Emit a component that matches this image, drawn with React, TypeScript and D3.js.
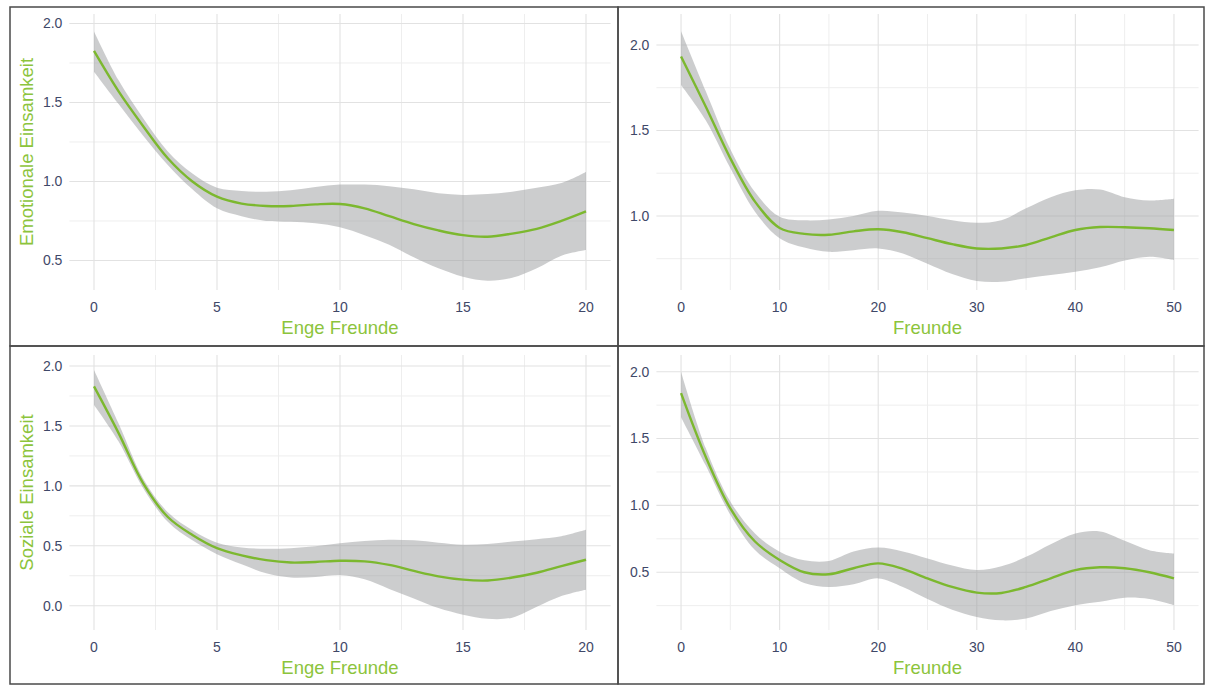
import React from "react";
import * as d3 from "d3";

// ---- Data ----
const engeX = [0, 1, 2, 3, 4, 5, 6, 7, 8, 9, 10, 11, 12, 13, 14, 15, 16, 17, 18, 19, 20];
const freundeX = [0, 2.5, 5, 7.5, 10, 12.5, 15, 17.5, 20, 22.5, 25, 27.5, 30, 32.5, 35, 37.5, 40, 42.5, 45, 47.5, 50];

// Emotionale Einsamkeit ~ Enge Freunde
const emoEngeFit = [1.826, 1.57, 1.35, 1.147, 1.0, 0.904, 0.86, 0.845, 0.845, 0.855, 0.857, 0.83, 0.78, 0.73, 0.69, 0.66, 0.65, 0.67, 0.7, 0.75, 0.81];
const emoEngeHi = [1.95, 1.64, 1.40, 1.19, 1.05, 0.96, 0.94, 0.935, 0.945, 0.965, 0.98, 0.98, 0.97, 0.95, 0.925, 0.915, 0.92, 0.935, 0.96, 0.99, 1.06];
const emoEngeLo = [1.695, 1.49, 1.29, 1.105, 0.95, 0.83, 0.78, 0.75, 0.745, 0.735, 0.71, 0.66, 0.6, 0.52, 0.45, 0.397, 0.372, 0.39, 0.45, 0.53, 0.566];

// Emotionale Einsamkeit ~ Freunde
const emoFrFit = [1.932, 1.64, 1.337, 1.084, 0.93, 0.895, 0.89, 0.91, 0.922, 0.905, 0.87, 0.835, 0.81, 0.81, 0.83, 0.875, 0.918, 0.935, 0.934, 0.928, 0.918];
const emoFrHi = [2.08, 1.73, 1.39, 1.14, 0.996, 0.975, 0.98, 1.0, 1.03, 1.02, 1.0, 0.975, 0.96, 0.975, 1.045, 1.11, 1.15, 1.155, 1.11, 1.09, 1.1];
const emoFrLo = [1.766, 1.56, 1.28, 1.025, 0.87, 0.815, 0.79, 0.8, 0.81, 0.78, 0.72, 0.66, 0.62, 0.615, 0.636, 0.655, 0.674, 0.7, 0.74, 0.762, 0.743];

// Soziale Einsamkeit ~ Enge Freunde
const sozEngeFit = [1.83, 1.44, 1.02, 0.74, 0.59, 0.48, 0.42, 0.38, 0.36, 0.365, 0.375, 0.37, 0.34, 0.29, 0.245, 0.217, 0.21, 0.235, 0.275, 0.33, 0.383];
const sozEngeHi = [1.967, 1.52, 1.06, 0.78, 0.63, 0.525, 0.485, 0.475, 0.48, 0.495, 0.52, 0.54, 0.55, 0.545, 0.525, 0.508, 0.515, 0.535, 0.555, 0.58, 0.633];
const sozEngeLo = [1.675, 1.37, 0.98, 0.7, 0.545, 0.43, 0.345, 0.27, 0.235, 0.24, 0.255, 0.22, 0.14, 0.06, -0.02, -0.075, -0.11, -0.1, -0.01, 0.08, 0.133];

// Soziale Einsamkeit ~ Freunde
const sozFrFit = [1.84, 1.364, 0.978, 0.73, 0.592, 0.5, 0.485, 0.53, 0.566, 0.525, 0.454, 0.39, 0.348, 0.345, 0.39, 0.455, 0.516, 0.537, 0.53, 0.5, 0.454];
const sozFrHi = [2.0, 1.43, 1.03, 0.79, 0.654, 0.59, 0.585, 0.655, 0.685, 0.655, 0.603, 0.55, 0.516, 0.545, 0.615, 0.71, 0.79, 0.805, 0.735, 0.665, 0.64];
const sozFrLo = [1.66, 1.3, 0.93, 0.666, 0.53, 0.42, 0.39, 0.41, 0.454, 0.39, 0.3, 0.22, 0.166, 0.14, 0.154, 0.21, 0.254, 0.28, 0.31, 0.3, 0.254];

const engeTicks = [0, 5, 10, 15, 20];
const engeMinor = [2.5, 7.5, 12.5, 17.5];
const freundeTicks = [0, 10, 20, 30, 40, 50];
const freundeMinor = [5, 15, 25, 35, 45];

const titleEnge = "Enge Freunde";
const titleFreunde = "Freunde";
const titleEmo = "Emotionale Einsamkeit";
const titleSoz = "Soziale Einsamkeit";

// ---- Styling ----
const GREEN = "#7cb82f";
const TITLE_GREEN = "#8cc43c";
const TICK = "#3f4868";
const FONT = "'Liberation Sans', Arial, Helvetica, sans-serif";

type Panel = {
  box: [number, number, number, number];
  px: [number, number];
  py: [number, number];
  xDomain: [number, number];
  yDomain: [number, number];
  xs: number[];
  fit: number[];
  lo: number[];
  hi: number[];
  xTicks: number[];
  xMinor: number[];
  yTicks: number[];
  yMinor: number[];
  xTitle: string;
  yTitle?: string;
};

const panels: Panel[] = [
  {
    box: [10, 7, 618, 346],
    px: [69.4, 610.6],
    py: [14, 290],
    xDomain: [-1, 21],
    yDomain: [2.06, 0.313],
    xs: engeX, fit: emoEngeFit, lo: emoEngeLo, hi: emoEngeHi,
    xTicks: engeTicks, xMinor: engeMinor,
    yTicks: [0.5, 1.0, 1.5, 2.0], yMinor: [0.75, 1.25, 1.75],
    xTitle: titleEnge, yTitle: titleEmo,
  },
  {
    box: [618, 7, 1204, 346],
    px: [656.4, 1198.6],
    py: [14, 290],
    xDomain: [-2.5, 52.5],
    yDomain: [2.181, 0.567],
    xs: freundeX, fit: emoFrFit, lo: emoFrLo, hi: emoFrHi,
    xTicks: freundeTicks, xMinor: freundeMinor,
    yTicks: [1.0, 1.5, 2.0], yMinor: [0.75, 1.25, 1.75],
    xTitle: titleFreunde,
  },
  {
    box: [10, 346, 618, 684],
    px: [69.4, 610.6],
    py: [355, 630],
    xDomain: [-1, 21],
    yDomain: [2.092, -0.203],
    xs: engeX, fit: sozEngeFit, lo: sozEngeLo, hi: sozEngeHi,
    xTicks: engeTicks, xMinor: engeMinor,
    yTicks: [0.0, 0.5, 1.0, 1.5, 2.0], yMinor: [0.25, 0.75, 1.25, 1.75],
    xTitle: titleEnge, yTitle: titleSoz,
  },
  {
    box: [618, 346, 1204, 684],
    px: [656.4, 1198.6],
    py: [355, 630],
    xDomain: [-2.5, 52.5],
    yDomain: [2.125, 0.068],
    xs: freundeX, fit: sozFrFit, lo: sozFrLo, hi: sozFrHi,
    xTicks: freundeTicks, xMinor: freundeMinor,
    yTicks: [0.5, 1.0, 1.5, 2.0], yMinor: [0.25, 0.75, 1.25, 1.75],
    xTitle: titleFreunde,
  },
];

const fmt = d3.format(".1f");

function PanelView({ p }: { p: Panel }) {
  const x = d3.scaleLinear().domain(p.xDomain).range(p.px);
  const y = d3.scaleLinear().domain(p.yDomain).range(p.py);
  const idx = p.xs.map((_, i) => i);
  const curve = d3.curveCatmullRom.alpha(0.5);
  const area = d3
    .area<number>()
    .x((i) => x(p.xs[i]))
    .y0((i) => y(p.lo[i]))
    .y1((i) => y(p.hi[i]))
    .curve(curve);
  const line = d3
    .line<number>()
    .x((i) => x(p.xs[i]))
    .y((i) => y(p.fit[i]))
    .curve(curve);
  const [x0, x1] = p.px;
  const [y0, y1] = p.py;
  const cx = (x0 + x1) / 2;
  const cy = (y0 + y1) / 2;
  return (
    <g>
      {p.yMinor.map((v) => (
        <line key={"ym" + v} x1={x0} x2={x1} y1={y(v)} y2={y(v)} stroke="#eeeeee" strokeWidth={1} />
      ))}
      {p.xMinor.map((v) => (
        <line key={"xm" + v} x1={x(v)} x2={x(v)} y1={y0} y2={y1} stroke="#eeeeee" strokeWidth={1} />
      ))}
      {p.yTicks.map((v) => (
        <line key={"yg" + v} x1={x0} x2={x1} y1={y(v)} y2={y(v)} stroke="#e2e2e2" strokeWidth={1.1} />
      ))}
      {p.xTicks.map((v) => (
        <line key={"xg" + v} x1={x(v)} x2={x(v)} y1={y0} y2={y1} stroke="#e2e2e2" strokeWidth={1.1} />
      ))}
      <path d={area(idx) || ""} fill="#999b9d" fillOpacity={0.5} />
      <path d={line(idx) || ""} fill="none" stroke={GREEN} strokeWidth={2.4} />
      {p.yTicks.map((v) => (
        <text key={"yt" + v} x={x0 - 7} y={y(v)} dy="0.35em" textAnchor="end" fontSize={14} fill={TICK} fontFamily={FONT}>
          {fmt(v)}
        </text>
      ))}
      {p.xTicks.map((v) => (
        <text key={"xt" + v} x={x(v)} y={y1 + 22} textAnchor="middle" fontSize={14} fill={TICK} fontFamily={FONT}>
          {v}
        </text>
      ))}
      <text x={cx} y={y1 + 44} textAnchor="middle" fontSize={18.5} fill={TITLE_GREEN} fontFamily={FONT}>
        {p.xTitle}
      </text>
      {p.yTitle && (
        <text
          transform={`translate(${p.box[0] + 17},${cy}) rotate(-90)`}
          textAnchor="middle"
          dy="0.35em"
          fontSize={18.5}
          fill={TITLE_GREEN}
          fontFamily={FONT}
        >
          {p.yTitle}
        </text>
      )}
    </g>
  );
}

export default function App() {
  return (
    <svg width={1206} height={685} style={{ position: "absolute", left: 0, top: 0, background: "#fff" }}>
      {panels.map((p, i) => (
        <PanelView key={i} p={p} />
      ))}
      {panels.map((p, i) => (
        <rect
          key={"b" + i}
          x={p.box[0]}
          y={p.box[1]}
          width={p.box[2] - p.box[0]}
          height={p.box[3] - p.box[1]}
          fill="none"
          stroke="#4a4a4a"
          strokeWidth={1.5}
        />
      ))}
    </svg>
  );
}
